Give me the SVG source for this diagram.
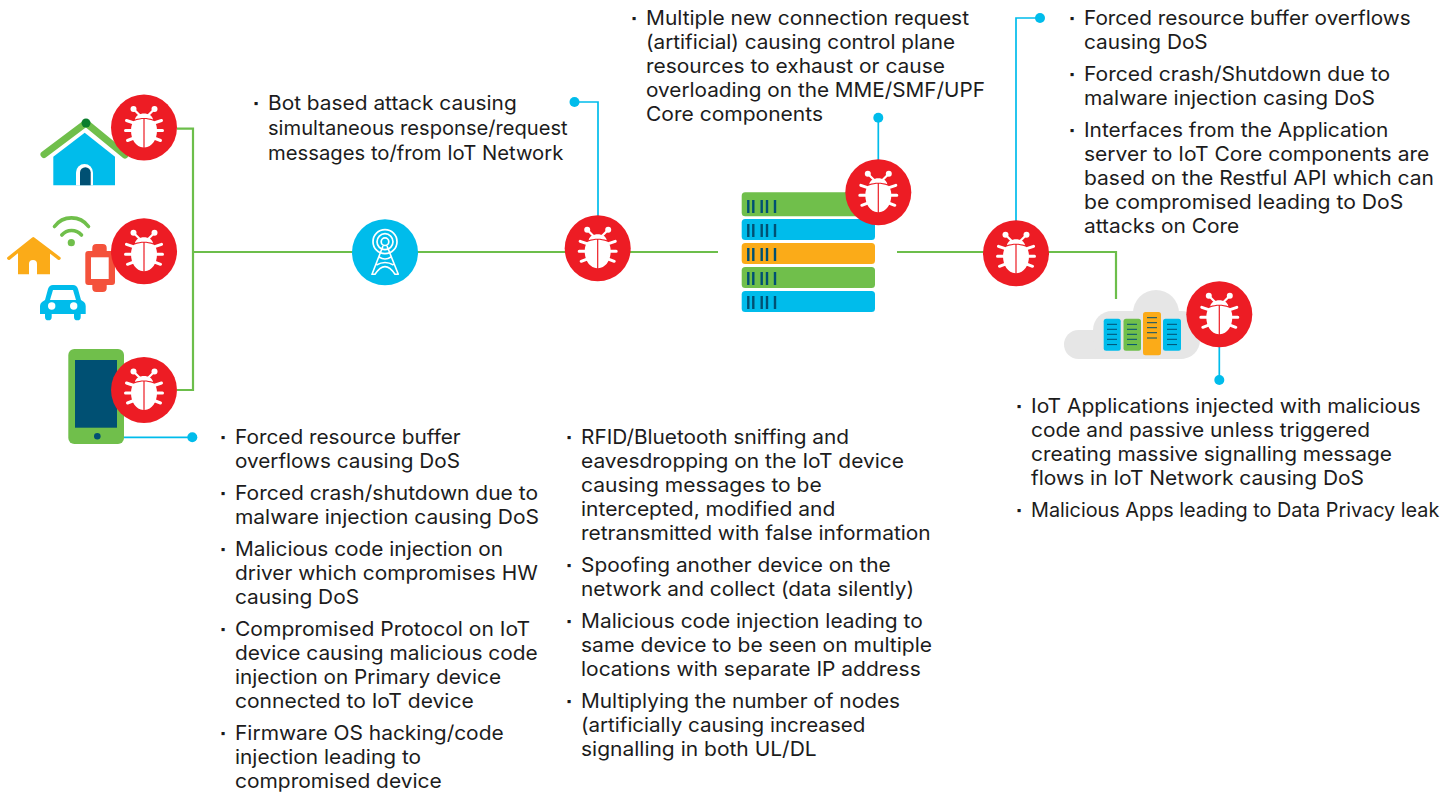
<svg xmlns="http://www.w3.org/2000/svg" xmlns:xlink="http://www.w3.org/1999/xlink" width="1456" height="792" viewBox="0 0 1456 792">
<style>
text{font-family:Inter,"Liberation Sans",Arial,sans-serif;font-size:20px;fill:#1c1c1c}
text.bu{font-size:11px}
.g{fill:none;stroke:#6cbe4b;stroke-width:2.2}
.b{fill:none;stroke:#00bceb;stroke-width:1.7}
.dot{fill:#00bceb}
.gr{fill:#70bf4b}.bl{fill:#00bceb}.or{fill:#fbab18}.nv{fill:#005073}
.tick{stroke:#005073;stroke-width:2.4}
.t2{stroke:#005073;stroke-width:1}
.w{fill:none;stroke:#fff;stroke-width:1.7}
</style>
<defs>
<g id="bug">
<circle r="33" fill="#ed1c24"/>
<g stroke="#fff" stroke-linecap="round" fill="none">
<path d="M-4-12-10-18M4-12 10-18" stroke-width="2.200"/>
<path d="M-10-4.500-17.500-7M10-4.500 17.500-7M-12 3H-18.500M12 3H18.500M-10 10.500-16.500 13M10 10.500 16.500 13" stroke-width="3"/>
</g>
<circle cx="-10.500" cy="-18.500" r="3" fill="#fff"/><circle cx="10.500" cy="-18.500" r="3" fill="#fff"/>
<path d="M-9-8C-8-16 8-16 9-8C4-10-4-10-9-8Z" fill="#fff"/>
<path d="M-10-6.500C-6-8.200-2-8.400-.6-8.500V20C-8 19.500-13 12-13 3C-13-1-12-4.500-10-6.500Z" fill="#fff"/>
<path d="M10-6.500C6-8.200 2-8.400.6-8.500V20C8 19.500 13 12 13 3C13-1 12-4.500 10-6.500Z" fill="#fff"/>
</g>
<g id="tk"><path class="tick" d="M748.300 0V13M753.300 0V13M761.700 0V13M767 0V13M775 0V13"/></g>
<g id="cl"><path class="t2" d="M0 0H10M0 5H10M0 10H10M0 15H10M0 20.300H10"/></g>
</defs>
<g id="connectors">
<path class="g" d="M177 128.700H193V390H177"/>
<path class="g" d="M193 252H718"/>
<path class="g" d="M897 252H1116V299"/>
<path class="b" d="M124 437.300H192"/>
<path class="b" d="M598 216V102H574"/>
<path class="b" d="M878.300 160V118"/>
<path class="b" d="M1016 221V18H1040"/>
<path class="b" d="M1219.300 347V380"/>
<circle class="dot" cx="192.300" cy="437.300" r="5"/>
<circle class="dot" cx="574.500" cy="102" r="5"/>
<circle class="dot" cx="878.300" cy="117.700" r="5"/>
<circle class="dot" cx="1040" cy="18" r="5"/>
<circle class="dot" cx="1219.300" cy="380" r="5"/>
</g>
<g id="node-home">
<path d="M44 154.500 86 123 125 155" fill="none" stroke="#70bf4b" stroke-width="7" stroke-linecap="round" stroke-linejoin="round"/>
<circle cx="86" cy="123" r="4.500" fill="#0a7d2c"/>
<path class="bl" d="M53.300 156.700 84.700 132.700 115 156.700V185.300H53.300Z"/>
<path d="M76 185.300V172.500A8.500 8.500 0 0 1 93 172.500V185.300Z" fill="#fff"/>
<path class="nv" d="M80 185.300V172.500A5.300 5.300 0 0 1 90.700 172.500V185.300Z"/>
<use href="#bug" x="144" y="127.500"/>
</g>
<g id="node-things">
<path d="M8.800 258.300 33.300 238.800 59 258.300" fill="none" stroke="#fbab18" stroke-width="3.400" stroke-linecap="round" stroke-linejoin="round"/>
<path class="or" d="M18 250 33.300 239 50 250V274.300H37V264A4 4 0 0 0 29 264V274.300H18Z"/>
<circle class="gr" cx="71.300" cy="242.700" r="3.600"/>
<path d="M54.500 226.500C63 215 80 215 88.500 226.500M61.800 235C67 229 76 229 81.500 235" fill="none" stroke="#70bf4b" stroke-width="3.600" stroke-linecap="round"/>
<path d="M92.300 251V248A4 4 0 0 1 96.300 244H102.700A4 4 0 0 1 106.700 248V251H112A3 3 0 0 1 115 254V282A3 3 0 0 1 112 285H106.700V288A4 4 0 0 1 102.700 292H96.300A4 4 0 0 1 92.300 288V285H88.300A3 3 0 0 1 85.300 282V254A3 3 0 0 1 88.300 251Z" fill="#f4523b"/>
<rect x="91" y="257.300" width="17.700" height="21.700" fill="#fff"/>
<path class="bl" d="M45 300 48 289Q49.300 285 53 285H73Q76.700 285 78 289L81 300 84 302Q85.700 303.500 85.700 306V314H80.700V317A3.300 3.300 0 0 1 74 317V314H51.700V317A3.300 3.300 0 0 1 45 317V314H40V306Q40 303.500 42 302Z"/>
<path d="M50 300 53 290H73L76 300Z" fill="#fff"/>
<circle cx="51.700" cy="306" r="3.700" fill="#fff"/><circle cx="73.700" cy="306" r="3.700" fill="#fff"/>
<use href="#bug" x="144" y="251.300"/>
</g>
<g id="node-phone">
<rect class="gr" x="68.300" y="349" width="55.700" height="95" rx="6"/>
<rect class="nv" x="75" y="360" width="42" height="67.700"/>
<circle class="nv" cx="97.300" cy="436.300" r="3.300"/>
<use href="#bug" x="144" y="390"/>
</g>
<g id="node-tower">
<circle class="bl" cx="385" cy="252.300" r="33"/>
<circle class="w" cx="385" cy="241.700" r="12"/><circle class="w" cx="385" cy="241.700" r="8"/><circle class="w" cx="385" cy="241.700" r="3.800"/>
<path d="M383 246 372 274.300H375Q385 259 395 274.300H398.300L387 246M379 257Q385 261 391 257M376.500 265Q385 260 393.500 265" fill="none" stroke="#fff" stroke-width="1.600" stroke-linejoin="round"/>
</g>
<g id="node-bug-access"><use href="#bug" x="597.700" y="248.300"/></g>
<g id="node-core">
<rect class="gr" x="741.700" y="192.300" width="133.300" height="24" rx="3.500"/>
<rect class="bl" x="741.700" y="219" width="133.300" height="21" rx="3.500"/>
<rect class="or" x="741.700" y="243" width="133.300" height="21" rx="3.500"/>
<rect class="gr" x="741.700" y="267" width="133.300" height="21" rx="3.500"/>
<rect class="bl" x="741.700" y="291" width="133.300" height="21" rx="3.500"/>
<use href="#tk" y="200"/><use href="#tk" y="224"/><use href="#tk" y="248"/><use href="#tk" y="272"/><use href="#tk" y="296"/>
<use href="#bug" x="878.300" y="192.300"/>
</g>
<g id="node-bug-app"><use href="#bug" x="1016" y="253.300"/></g>
<g id="node-cloud">
<g fill="#e6e6e6">
<rect x="1064" y="330" width="130" height="29" rx="14.500"/>
<rect x="1093" y="311" width="107" height="48" rx="19"/>
<ellipse cx="1156" cy="313" rx="23" ry="23"/>
</g>
<rect class="bl" x="1103.700" y="318.700" width="17" height="32" rx="2.500"/>
<rect class="gr" x="1123.500" y="318.700" width="17.500" height="32" rx="2.500"/>
<rect class="or" x="1143" y="312" width="18" height="43.300" rx="2.500"/>
<rect class="bl" x="1163" y="318.700" width="18" height="32" rx="2.500"/>
<use href="#cl" x="1107" y="324.300"/><use href="#cl" x="1127" y="324.300"/><use href="#cl" x="1147" y="317.700"/><use href="#cl" x="1167" y="324.300"/>
<use href="#bug" x="1219.300" y="314.300"/>
</g>
<g id="text-top-left" lengthAdjust="spacingAndGlyphs">
<text class="bu" x="253" y="107">▪</text><text x="268" y="110" textLength="248.700" lengthAdjust="spacingAndGlyphs">Bot based attack causing</text>
<text x="268" y="135" textLength="299.700" lengthAdjust="spacingAndGlyphs">simultaneous response/request</text>
<text x="268" y="160" textLength="295.300" lengthAdjust="spacingAndGlyphs">messages to/from IoT Network</text>
</g>
<g id="text-top-mid">
<text class="bu" x="631" y="22">▪</text><text x="646" y="25" textLength="323" lengthAdjust="spacingAndGlyphs">Multiple new connection request</text>
<text x="646" y="49" textLength="309" lengthAdjust="spacingAndGlyphs">(artificial) causing control plane</text>
<text x="646" y="73" textLength="299" lengthAdjust="spacingAndGlyphs">resources to exhaust or cause</text>
<text x="646" y="97" textLength="339" lengthAdjust="spacingAndGlyphs">overloading on the MME/SMF/UPF</text>
<text x="646" y="121" textLength="177" lengthAdjust="spacingAndGlyphs">Core components</text>
</g>
<g id="text-top-right">
<text class="bu" x="1069" y="22">▪</text><text x="1084" y="25" textLength="326.700" lengthAdjust="spacingAndGlyphs">Forced resource buffer overflows</text>
<text x="1084" y="49" textLength="123.700" lengthAdjust="spacingAndGlyphs">causing DoS</text>
<text class="bu" x="1069" y="78">▪</text><text x="1084" y="81" textLength="306" lengthAdjust="spacingAndGlyphs">Forced crash/Shutdown due to</text>
<text x="1084" y="105" textLength="291" lengthAdjust="spacingAndGlyphs">malware injection casing DoS</text>
<text class="bu" x="1069" y="134">▪</text><text x="1084" y="137" textLength="304.300" lengthAdjust="spacingAndGlyphs">Interfaces from the Application</text>
<text x="1084" y="161" textLength="345.300" lengthAdjust="spacingAndGlyphs">server to IoT Core components are</text>
<text x="1084" y="185" textLength="350" lengthAdjust="spacingAndGlyphs">based on the Restful API which can</text>
<text x="1084" y="209" textLength="319.300" lengthAdjust="spacingAndGlyphs">be compromised leading to DoS</text>
<text x="1084" y="233" textLength="155.300" lengthAdjust="spacingAndGlyphs">attacks on Core</text>
</g>
<g id="text-app">
<text class="bu" x="1016" y="410">▪</text><text x="1031" y="413" textLength="389.700" lengthAdjust="spacingAndGlyphs">IoT Applications injected with malicious</text>
<text x="1031" y="437" textLength="339" lengthAdjust="spacingAndGlyphs">code and passive unless triggered</text>
<text x="1031" y="461" textLength="361" lengthAdjust="spacingAndGlyphs">creating massive signalling message</text>
<text x="1031" y="485" textLength="333" lengthAdjust="spacingAndGlyphs">flows in IoT Network causing DoS</text>
<text class="bu" x="1016" y="514">▪</text><text x="1031" y="517" textLength="408.300" lengthAdjust="spacingAndGlyphs">Malicious Apps leading to Data Privacy leak</text>
</g>
<g id="text-device">
<text class="bu" x="220" y="441">▪</text><text x="235" y="444" textLength="225.700" lengthAdjust="spacingAndGlyphs">Forced resource buffer</text>
<text x="235" y="468" textLength="225" lengthAdjust="spacingAndGlyphs">overflows causing DoS</text>
<text class="bu" x="220" y="497">▪</text><text x="235" y="500" textLength="303" lengthAdjust="spacingAndGlyphs">Forced crash/shutdown due to</text>
<text x="235" y="524" textLength="304" lengthAdjust="spacingAndGlyphs">malware injection causing DoS</text>
<text class="bu" x="220" y="553">▪</text><text x="235" y="556" textLength="268" lengthAdjust="spacingAndGlyphs">Malicious code injection on</text>
<text x="235" y="580" textLength="302.700" lengthAdjust="spacingAndGlyphs">driver which compromises HW</text>
<text x="235" y="604" textLength="124" lengthAdjust="spacingAndGlyphs">causing DoS</text>
<text class="bu" x="220" y="633">▪</text><text x="235" y="636" textLength="295" lengthAdjust="spacingAndGlyphs">Compromised Protocol on IoT</text>
<text x="235" y="660" textLength="302.700" lengthAdjust="spacingAndGlyphs">device causing malicious code</text>
<text x="235" y="684" textLength="266" lengthAdjust="spacingAndGlyphs">injection on Primary device</text>
<text x="235" y="708" textLength="238.700" lengthAdjust="spacingAndGlyphs">connected to IoT device</text>
<text class="bu" x="220" y="737">▪</text><text x="235" y="740" textLength="268.700" lengthAdjust="spacingAndGlyphs">Firmware OS hacking/code</text>
<text x="235" y="764" textLength="186" lengthAdjust="spacingAndGlyphs">injection leading to</text>
<text x="235" y="788" textLength="206.700" lengthAdjust="spacingAndGlyphs">compromised device</text>
</g>
<g id="text-radio">
<text class="bu" x="566" y="441">▪</text><text x="581" y="444" textLength="268" lengthAdjust="spacingAndGlyphs">RFID/Bluetooth sniffing and</text>
<text x="581" y="468" textLength="323" lengthAdjust="spacingAndGlyphs">eavesdropping on the IoT device</text>
<text x="581" y="492" textLength="240.700" lengthAdjust="spacingAndGlyphs">causing messages to be</text>
<text x="581" y="516" textLength="254.300" lengthAdjust="spacingAndGlyphs">intercepted, modified and</text>
<text x="581" y="540" textLength="349.700" lengthAdjust="spacingAndGlyphs">retransmitted with false information</text>
<text class="bu" x="566" y="569">▪</text><text x="581" y="572" textLength="309.700" lengthAdjust="spacingAndGlyphs">Spoofing another device on the</text>
<text x="581" y="596" textLength="333" lengthAdjust="spacingAndGlyphs">network and collect (data silently)</text>
<text class="bu" x="566" y="625">▪</text><text x="581" y="628" textLength="341.700" lengthAdjust="spacingAndGlyphs">Malicious code injection leading to</text>
<text x="581" y="652" textLength="351" lengthAdjust="spacingAndGlyphs">same device to be seen on multiple</text>
<text x="581" y="676" textLength="339.700" lengthAdjust="spacingAndGlyphs">locations with separate IP address</text>
<text class="bu" x="566" y="705">▪</text><text x="581" y="708" textLength="319" lengthAdjust="spacingAndGlyphs">Multiplying the number of nodes</text>
<text x="581" y="732" textLength="284.300" lengthAdjust="spacingAndGlyphs">(artificially causing increased</text>
<text x="581" y="756" textLength="235.700" lengthAdjust="spacingAndGlyphs">signalling in both UL/DL</text>
</g>
</svg>
